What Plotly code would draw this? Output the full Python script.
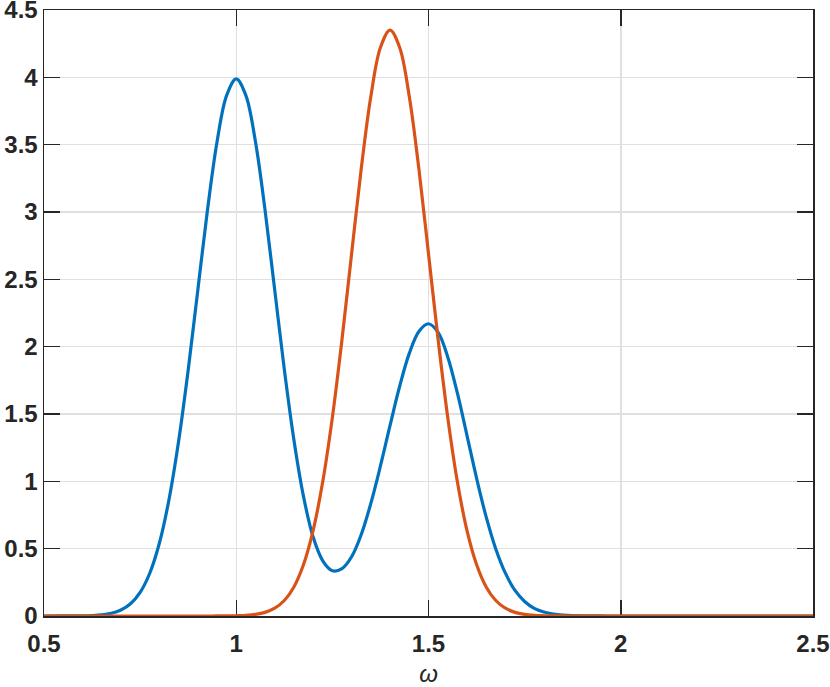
import plotly.graph_objects as go

# Frequency axis samples
omega = [0.5, 0.55, 0.6, 0.625, 0.65, 0.675, 0.7, 0.725, 0.75, 0.775, 0.8, 0.825,
         0.85, 0.875, 0.9, 0.925, 0.95, 0.975, 1.0, 1.025, 1.05, 1.075, 1.1, 1.125,
         1.15, 1.175, 1.2, 1.225, 1.25, 1.275, 1.3, 1.325, 1.35, 1.375, 1.4, 1.425,
         1.45, 1.475, 1.5, 1.525, 1.55, 1.575, 1.6, 1.625, 1.65, 1.675, 1.7, 1.725,
         1.75, 1.775, 1.8, 1.825, 1.85, 1.875, 1.9, 1.95, 2.0, 2.25, 2.5]

# Blue series (two-peaked spectrum)
blue_vals = [0.0, 0.0002, 0.0013, 0.0035, 0.0087, 0.0203, 0.0443, 0.091, 0.1753, 0.3174,
             0.5399, 0.8629, 1.2952, 1.8262, 2.4194, 3.011, 3.5204, 3.8662, 3.989, 3.866,
             3.521, 3.012, 2.422, 1.831, 1.307, 0.886, 0.586, 0.41, 0.336, 0.352,
             0.44, 0.604, 0.836, 1.114, 1.415, 1.706, 1.95, 2.113, 2.17, 2.106,
             1.924, 1.656, 1.342, 1.024, 0.736, 0.498, 0.318, 0.19, 0.108, 0.057,
             0.029, 0.014, 0.006, 0.0025, 0.001, 0.0002, 0.0, 0.0, 0.0]

# Orange series (single peak)
orange_vals = [0.0, 0.0, 0.0, 0.0, 0.0, 0.0, 0.0, 0.0, 0.0, 0.0,
               0.0, 0.0, 0.0, 0.0, 0.0, 0.0, 0.0003, 0.0007, 0.002, 0.005,
               0.0121, 0.0271, 0.0576, 0.115, 0.216, 0.382, 0.636, 0.998, 1.475, 2.053,
               2.69, 3.32, 3.858, 4.221, 4.35, 4.221, 3.858, 3.32, 2.69, 2.053,
               1.475, 0.998, 0.636, 0.382, 0.216, 0.115, 0.0576, 0.0271, 0.0121, 0.005,
               0.002, 0.0007, 0.0003, 0.0, 0.0, 0.0, 0.0, 0.0, 0.0]

x_ticks = [0.5, 1.0, 1.5, 2.0, 2.5]
x_tick_labels = ["0.5", "1", "1.5", "2", "2.5"]
y_ticks = [0, 0.5, 1, 1.5, 2, 2.5, 3, 3.5, 4, 4.5]
y_tick_labels = ["0", "0.5", "1", "1.5", "2", "2.5", "3", "3.5", "4", "4.5"]
x_title = "ω"

AXC = "#262626"
FONT = "Liberation Sans, Arial, Helvetica, sans-serif"

fig = go.Figure()
fig.add_trace(go.Scatter(x=omega, y=blue_vals, mode="lines",
                         line=dict(color="#0072BD", width=3.2, shape="spline"),
                         hoverinfo="skip"))
fig.add_trace(go.Scatter(x=omega, y=orange_vals, mode="lines",
                         line=dict(color="#D95319", width=3.2, shape="spline"),
                         hoverinfo="skip"))

axis_common = dict(
    ticks="inside", ticklen=16, tickwidth=1.5, tickcolor=AXC,
    showline=True, linecolor=AXC, linewidth=1.5, mirror="ticks",
    showgrid=True, gridcolor="#e0e0e0", gridwidth=1.5, zeroline=False,
    tickfont=dict(family=FONT, size=24, color=AXC, weight="bold"),
    ticklabeloverflow="allow",
    layer="below traces",
)

fig.update_xaxes(range=[0.5, 2.5], tickvals=x_ticks, ticktext=x_tick_labels,
                 ticklabelstandoff=6,
                 title=dict(text="<i>" + x_title + "</i>",
                            font=dict(family=FONT, size=24, color=AXC), standoff=12),
                 **axis_common)
fig.update_yaxes(range=[0, 4.5], tickvals=y_ticks, ticktext=y_tick_labels,
                 **axis_common)

fig.update_layout(width=830, height=687,
                  margin=dict(l=44, r=17, t=10, b=71, autoexpand=False),
                  plot_bgcolor="white", paper_bgcolor="white",
                  showlegend=False)

fig.write_html("out.html", config={"displayModeBar": False, "staticPlot": True},
               post_script="document.body.style.margin='0';document.body.style.overflow='hidden';")
